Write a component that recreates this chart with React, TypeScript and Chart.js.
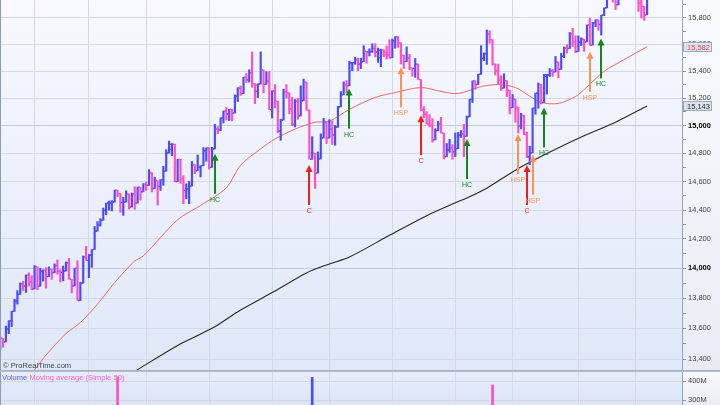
import React, { useEffect, useRef } from "react";
import { Chart, registerables } from "chart.js";
Chart.register(...registerables);

// ---------- data (Dow Jones Industrial, daily, Jan 15 2013 - Dec 6 2013) ----------
const opens = [
  13507, 13534, 13511, 13596, 13649, 13712, 13779, 13825, 13895, 13881, 13954, 13910,
  13861, 14010, 13880, 13979, 13986, 13944, 13993, 13971, 14019, 13982, 13973, 13982, 14036, 13927, 13881, 14001, 13784, 13900, 14076,
  14054, 14090, 14128, 14254, 14296, 14329, 14397, 14448, 14450, 14455, 14539, 14515, 14453, 14456, 14512, 14421, 14512, 14448, 14560, 14527,
  14579, 14573, 14662, 14550, 14607, 14565, 14613, 14673, 14802, 14829, 14865, 14599, 14757, 14619, 14537, 14548, 14568, 14719, 14676, 14700, 14712, 14819,
  14840, 14700, 14831, 14974, 14969, 15056, 15105, 15083, 15118, 15091, 15215, 15275, 15233, 15354, 15335, 15388, 15307, 15250, 15303, 15409, 15302, 15324,
  15116, 15254, 15177, 14960, 15040, 15248, 15239, 15122, 15009, 15176, 15070, 15180, 15318, 15112, 14758, 14800, 14660, 14760, 14910, 15024,
  14910, 14975, 14932, 14988, 15136, 15225, 15300, 15291, 15460, 15464, 15484, 15452, 15470, 15548, 15543, 15545, 15568, 15542, 15500, 15559, 15540, 15521,
  15500, 15628, 15658, 15612, 15519, 15471, 15498, 15425, 15419, 15452, 15337, 15112, 15081, 15010, 15002, 14897, 14963, 15010, 14946, 14776, 14825, 14841,
  14810, 14834, 14930, 14938, 14922, 15063, 15191, 15327, 15300, 15376, 15494, 15530, 15677, 15636, 15452, 15402, 15334, 15274, 15329, 15258,
  15130, 15192, 15133, 14997, 15073, 14936, 14776, 14803, 15127, 15237, 15301, 15168, 15360, 15372, 15400, 15393, 15468, 15413, 15510, 15571, 15569, 15681, 15619,
  15546, 15616, 15639, 15619, 15747, 15594, 15762, 15784, 15751, 15822, 15877, 15962, 15976, 15968, 15901, 16010, 16065, 16075, 16073, 16098,
  16086, 16008, 15915, 15889, 15825,
];
const highs = [
  13543, 13534, 13615, 13650, 13713, 13792, 13850, 13902, 13913, 13955, 13970, 13950,
  14019, 14010, 14001, 13990, 14004, 14010, 13993, 14030, 14057, 13991, 14016, 14044, 14068, 13927, 14001, 14052, 13906, 14084, 14150,
  14094, 14128, 14286, 14320, 14340, 14414, 14448, 14463, 14466, 14539, 14539, 14515, 14489, 14534, 14512, 14519, 14563, 14560, 14560, 14585,
  14596, 14684, 14662, 14630, 14607, 14613, 14708, 14826, 14888, 14870, 14865, 14757, 14757, 14641, 14584, 14601, 14742, 14720, 14788, 14712, 14841, 14840,
  14840, 14843, 15009, 14992, 15056, 15106, 15133, 15118, 15118, 15224, 15277, 15290, 15354, 15382, 15410, 15543, 15307, 15306, 15543, 15409, 15395, 15397,
  15254, 15300, 15177, 15046, 15266, 15300, 15239, 15205, 15190, 15200, 15291, 15340, 15318, 15112, 14920, 14800, 14810, 14940, 15052, 15024,
  15043, 15033, 15000, 15140, 15249, 15320, 15330, 15474, 15465, 15504, 15497, 15496, 15590, 15549, 15567, 15604, 15605, 15572, 15564, 15559, 15588, 15635,
  15640, 15659, 15658, 15612, 15519, 15581, 15525, 15425, 15494, 15452, 15337, 15139, 15100, 15079, 15050, 14977, 15031, 15060, 14946, 14870, 14900, 14863,
  14946, 14951, 14964, 15009, 15069, 15192, 15327, 15327, 15377, 15590, 15536, 15709, 15703, 15636, 15453, 15452, 15365, 15380, 15329, 15258,
  15227, 15192, 15133, 15089, 15073, 14953, 14851, 15127, 15237, 15312, 15301, 15376, 15376, 15419, 15412, 15509, 15468, 15534, 15580, 15597, 15690, 15721, 15664,
  15664, 15650, 15639, 15747, 15797, 15767, 15787, 15784, 15822, 15877, 15962, 16030, 15996, 16027, 16025, 16065, 16098, 16104, 16115, 16174,
  16118, 16008, 15954, 15889, 16022,
];
const lows = [
  13460, 13476, 13511, 13565, 13611, 13712, 13760, 13825, 13851, 13838, 13880, 13855,
  13861, 13856, 13880, 13914, 13867, 13944, 13926, 13970, 13960, 13907, 13916, 13982, 13927, 13835, 13881, 13784, 13784, 13900, 14054,
  13937, 14007, 14128, 14254, 14289, 14329, 14368, 14399, 14394, 14455, 14493, 14385, 14363, 14456, 14406, 14421, 14405, 14448, 14469, 14527,
  14537, 14573, 14527, 14550, 14434, 14537, 14573, 14673, 14802, 14783, 14598, 14599, 14586, 14444, 14479, 14444, 14568, 14655, 14676, 14632, 14712, 14743,
  14687, 14700, 14831, 14940, 14963, 15019, 15040, 15036, 15034, 15091, 15175, 15220, 15233, 15315, 15318, 15280, 15160, 15204, 15303, 15239, 15302, 15115,
  15055, 15128, 14948, 14894, 15040, 15200, 15085, 14998, 14990, 15046, 15070, 15180, 15112, 14758, 14758, 14551, 14660, 14760, 14910, 14870,
  14910, 14863, 14858, 14988, 15136, 15225, 15239, 15291, 15403, 15450, 15403, 15419, 15470, 15458, 15513, 15540, 15505, 15465, 15432, 15507, 15490, 15495,
  15500, 15571, 15578, 15453, 15420, 15471, 15409, 15362, 15353, 15337, 15107, 15057, 15010, 14990, 14880, 14897, 14963, 14946, 14760, 14776, 14807, 14758,
  14777, 14834, 14914, 14776, 14922, 15063, 15168, 15265, 15300, 15376, 15478, 15450, 15609, 15444, 15371, 15306, 15257, 15274, 15212, 15084,
  15130, 15024, 14946, 14975, 14935, 14769, 14719, 14803, 15082, 15126, 15158, 15168, 15230, 15360, 15360, 15393, 15350, 15413, 15500, 15534, 15569, 15584, 15537,
  15546, 15591, 15547, 15619, 15594, 15594, 15733, 15706, 15670, 15818, 15877, 15960, 15922, 15865, 15901, 15996, 16056, 16054, 16072, 16081,
  15996, 15850, 15800, 15782, 15825,
];
const closes = [
  13535, 13511, 13597, 13650, 13712, 13780, 13825, 13896, 13882, 13954, 13911, 13861,
  14010, 13880, 13979, 13986, 13944, 13993, 13971, 14019, 13982, 13973, 13982, 14036, 13928, 13881, 14001, 13784, 13900, 14076, 14054,
  14090, 14128, 14254, 14296, 14329, 14397, 14448, 14450, 14455, 14539, 14515, 14453, 14456, 14512, 14421, 14512, 14448, 14560, 14527, 14579,
  14573, 14662, 14550, 14607, 14565, 14613, 14673, 14802, 14865, 14865, 14599, 14757, 14619, 14537, 14548, 14568, 14719, 14676, 14700, 14712, 14819, 14840,
  14700, 14831, 14974, 14969, 15056, 15105, 15083, 15118, 15091, 15215, 15275, 15233, 15354, 15335, 15388, 15307, 15295, 15303, 15409, 15302, 15324, 15116,
  15254, 15177, 14960, 15040, 15248, 15239, 15122, 15009, 15176, 15070, 15180, 15318, 15112, 14758, 14800, 14660, 14760, 14910, 15024, 14910,
  14975, 14932, 14988, 15136, 15225, 15300, 15291, 15460, 15464, 15484, 15452, 15470, 15548, 15543, 15545, 15568, 15542, 15555, 15559, 15521, 15521, 15500,
  15628, 15658, 15612, 15519, 15471, 15498, 15425, 15419, 15452, 15337, 15112, 15081, 15010, 15002, 14897, 14963, 15010, 14946, 14776, 14825, 14841, 14810,
  14834, 14930, 14938, 14922, 15063, 15191, 15327, 15300, 15376, 15494, 15530, 15677, 15636, 15452, 15402, 15334, 15274, 15329, 15258, 15130,
  15192, 15133, 14997, 15073, 14936, 14776, 14803, 15127, 15237, 15301, 15168, 15374, 15372, 15400, 15393, 15468, 15413, 15510, 15571, 15569, 15681, 15619, 15546,
  15616, 15639, 15619, 15747, 15594, 15762, 15784, 15751, 15822, 15877, 15962, 15976, 15968, 15901, 16010, 16065, 16073, 16073, 16098, 16086,
  16008, 15915, 15889, 15822, 16020,
];

// first bar index of each month (Feb ... Dec)
const monthStartIdx = [12, 31, 51, 73, 95, 115, 137, 159, 179, 202, 222];

// price axis ticks (every 100, labelled every 200)
const priceTicks = [13400, 13500, 13600, 13700, 13800, 13900, 14000, 14100, 14200, 14300, 14400, 14500, 14600, 14700, 14800, 14900, 15000, 15100, 15200, 15300, 15400, 15500, 15600, 15700, 15800, 15900];

// moving averages
const ma50Idx = [12, 16, 23, 28, 34, 40, 47, 50, 62, 70, 79, 84, 91, 96, 103, 110, 115, 122, 131, 138, 147, 154, 160, 168, 174, 180, 185, 189, 195, 201, 204, 211, 218, 226];
const ma50Val = [13330, 13425, 13566, 13638, 13760, 13904, 14050, 14084, 14333, 14432, 14555, 14716, 14832, 14903, 14974, 15024, 15032, 15118, 15205, 15241, 15278, 15249, 15234, 15285, 15300, 15278, 15214, 15168, 15161, 15212, 15263, 15398, 15486, 15582];
const ma200Idx = [47, 62, 74, 84, 96, 107, 115, 122, 136, 149, 159, 163, 170, 180, 191, 203, 215, 226];
const ma200Val = [13320, 13488, 13600, 13721, 13847, 13969, 14030, 14077, 14225, 14361, 14450, 14484, 14553, 14680, 14798, 14917, 15024, 15143];

// signal arrows
const signalIdx = [75, 108, 122, 140, 147, 163, 181, 184, 186, 190, 206, 210];
const signalPrice = [14797, 14717, 15270, 15428, 15075, 14903, 14938, 14717, 14790, 15132, 15545, 15645];
const signalLabel = ["HC", "C", "HC", "HSP", "C", "HC", "HSP", "C", "HSP", "HC", "HSP", "HC"];

// volume (millions) - only the spikes that reach the visible panel range
const volIdx = [41, 109, 172];
const volVal = [422, 419, 379];
const volTicks = [300, 400];

// ---------- styling ----------
const FONT = "'Liberation Sans', Arial, sans-serif";
const BLUE = "#4a4aff";
const MAGENTA = "#ff4ec6";
const GRID = "#d3d9e7";
const GRID_STRONG = "#c2cadb";
const X_MIN = -0.07;
const X_MAX = 238.2;
const Y_MIN = 13329;
const Y_MAX = 15938;
const SIG_COLORS: Record<string, string> = { HC: "#16861a", C: "#f21d1d", HSP: "#ff9252" };

const fmt = (v: number) => String(Math.round(v)).replace(/\B(?=(\d{3})+(?!\d))/g, ",");
const barColor = (i: number) => (closes[i] >= opens[i] ? BLUE : MAGENTA);

function bgPlugin(plotTop: string, plotBottom: string) {
  return {
    id: "bg",
    beforeDraw(chart: any) {
      const { ctx, chartArea: a, width, height } = chart;
      ctx.save();
      let g = ctx.createLinearGradient(0, 0, 0, height);
      g.addColorStop(0, "#fafbfd");
      g.addColorStop(1, "#e8edf5");
      ctx.fillStyle = g;
      ctx.fillRect(0, 0, width, height);
      g = ctx.createLinearGradient(0, a.top, 0, a.bottom);
      g.addColorStop(0, plotTop);
      g.addColorStop(1, plotBottom);
      ctx.fillStyle = g;
      ctx.fillRect(a.left, a.top, a.right - a.left, a.bottom - a.top);
      ctx.restore();
    },
  };
}

const ohlcTicksPlugin = {
  id: "ohlcTicks",
  afterDatasetsDraw(chart: any) {
    const { ctx, chartArea: a, scales } = chart;
    const xs = scales.x, ys = scales.y;
    ctx.save();
    ctx.beginPath();
    ctx.rect(a.left, a.top, a.right - a.left, a.bottom - a.top);
    ctx.clip();
    for (let i = 0; i < closes.length; i++) {
      const x = xs.getPixelForValue(i);
      const yo = ys.getPixelForValue(opens[i]);
      const yc = ys.getPixelForValue(closes[i]);
      ctx.fillStyle = barColor(i);
      ctx.fillRect(x - 2.2, yo - 0.6, 1.5, 1.2);
      ctx.fillRect(x + 0.7, yc - 0.6, 1.5, 1.2);
    }
    ctx.restore();
  },
};

const signalPlugin = {
  id: "signals",
  afterDatasetsDraw(chart: any) {
    const { ctx, scales } = chart;
    const xs = scales.x, ys = scales.y;
    ctx.save();
    ctx.font = `7px ${FONT}`;
    ctx.textAlign = "center";
    ctx.textBaseline = "middle";
    for (let k = 0; k < signalIdx.length; k++) {
      const x = Math.round(xs.getPixelForValue(signalIdx[k]));
      const yTip = ys.getPixelForValue(signalPrice[k]);
      const col = SIG_COLORS[signalLabel[k]];
      ctx.fillStyle = col;
      ctx.beginPath();
      ctx.moveTo(x, yTip);
      ctx.lineTo(x - 3.5, yTip + 7);
      ctx.lineTo(x + 3.5, yTip + 7);
      ctx.closePath();
      ctx.fill();
      ctx.fillRect(x - 1, yTip + 6, 2, 34);
      ctx.fillText(signalLabel[k], x, yTip + 46);
    }
    ctx.restore();
  },
};

const mainOverlayPlugin = {
  id: "mainOverlay",
  afterDraw(chart: any) {
    const { ctx, chartArea: a, scales, width } = chart;
    const ys = scales.y;
    ctx.save();
    ctx.fillStyle = "#8e9cb0";
    ctx.fillRect(0, 0, 1, a.bottom);
    ctx.fillStyle = "#a6b1c1";
    ctx.fillRect(0, a.bottom, width, 1);
    // last-value boxes
    const boxes = [
      { v: ma50Val[ma50Val.length - 1], c: "#e8424c" },
      { v: ma200Val[ma200Val.length - 1], c: "#1d2430" },
    ];
    ctx.font = `7.5px ${FONT}`;
    ctx.textBaseline = "middle";
    ctx.textAlign = "left";
    for (const b of boxes) {
      const y = ys.getPixelForValue(b.v);
      ctx.fillStyle = "#dce3ed";
      ctx.fillRect(a.right + 1, Math.round(y) - 5, 29, 10);
      ctx.strokeStyle = "#9aabbf";
      ctx.lineWidth = 1;
      ctx.strokeRect(a.right + 1.5, Math.round(y) - 4.5, 28, 9);
      ctx.fillStyle = b.c;
      ctx.fillText(fmt(b.v), a.right + 5, Math.round(y) + 0.5);
    }
    ctx.fillStyle = "#3d4450";
    ctx.font = `7.6px ${FONT}`;
    ctx.fillText("\u00a9 ProRealTime.com", 3, a.bottom - 4);
    ctx.restore();
  },
};

const volOverlayPlugin = {
  id: "volOverlay",
  afterDraw(chart: any) {
    const { ctx, chartArea: a, width } = chart;
    ctx.save();
    ctx.fillStyle = "#b4bfcd";
    ctx.fillRect(0, 0, width, 1);
    ctx.fillStyle = "#8e9cb0";
    ctx.fillRect(0, a.top, 1, a.bottom - a.top);
    ctx.font = `7.6px ${FONT}`;
    ctx.textBaseline = "middle";
    ctx.textAlign = "left";
    ctx.fillStyle = "#5a5cff";
    const t1 = "Volume ";
    ctx.fillText(t1, 2, 7);
    const w = ctx.measureText(t1).width;
    ctx.fillStyle = "#ff5fcf";
    ctx.fillText("Moving average (Simple 50)", 2 + w, 7);
    ctx.restore();
  },
};

function xScale() {
  return {
    type: "linear" as const,
    min: X_MIN,
    max: X_MAX,
    offset: false,
    bounds: "data" as const,
    afterBuildTicks: (s: any) => {
      s.ticks = monthStartIdx.map((v) => ({ value: v }));
    },
    afterFit: (s: any) => {
      s.height = 0;
      s.paddingLeft = 0;
      s.paddingRight = 0;
    },
    ticks: { display: false },
    grid: { color: GRID, drawTicks: false, offset: false, lineWidth: 1 },
    border: { display: false },
  };
}

export default function App() {
  const mainRef = useRef<HTMLCanvasElement>(null);
  const volRef = useRef<HTMLCanvasElement>(null);

  useEffect(() => {
    document.body.style.margin = "0";
    Chart.defaults.font.family = FONT;

    const main = new Chart(mainRef.current as HTMLCanvasElement, {
      type: "line",
      data: {
        datasets: [
          {
            type: "bar",
            data: highs.map((h, i) => ({ x: i, y: [lows[i], h] })) as any,
            backgroundColor: closes.map((_, i) => barColor(i)),
            borderWidth: 0,
            barThickness: 1.5,
            order: 0,
            clip: 0,
          } as any,
          {
            type: "line",
            data: ma50Idx.map((x, i) => ({ x, y: ma50Val[i] })),
            borderColor: "#f0686a",
            borderWidth: 1,
            pointRadius: 0,
            tension: 0.3,
            order: 2,
            clip: 0,
          } as any,
          {
            type: "line",
            data: ma200Idx.map((x, i) => ({ x, y: ma200Val[i] })),
            borderColor: "#262626",
            borderWidth: 1.1,
            pointRadius: 0,
            tension: 0.3,
            order: 2,
            clip: 0,
          } as any,
        ],
      },
      options: {
        responsive: false,
        animation: false,
        devicePixelRatio: 1,
        events: [],
        layout: { padding: { left: 0, right: 0, top: 0, bottom: 1 }, autoPadding: false } as any,
        plugins: { legend: { display: false }, tooltip: { enabled: false }, title: { display: false } },
        scales: {
          x: xScale() as any,
          y: {
            type: "logarithmic",
            position: "right",
            min: Y_MIN,
            max: Y_MAX,
            bounds: "data",
            afterBuildTicks: (s: any) => {
              s.ticks = priceTicks.map((v) => ({ value: v }));
            },
            afterFit: (s: any) => {
              s.width = 38;
              s.paddingTop = 0;
              s.paddingBottom = 0;
            },
            ticks: {
              autoSkip: false,
              padding: 2,
              callback: (v: any) => (Number(v) % 200 === 0 ? fmt(Number(v)) : ""),
              color: (c: any) => (c.tick && c.tick.value % 1000 === 0 ? "#000000" : "#3a3f48"),
              font: (c: any) => ({
                size: 7.5,
                family: FONT,
                weight: c.tick && c.tick.value % 1000 === 0 ? "bold" : "normal",
              }),
            },
            grid: {
              color: (c: any) => {
                const v = c.tick ? c.tick.value : 0;
                if (v % 1000 === 0) return GRID_STRONG;
                if (v % 200 === 0) return GRID;
                return "rgba(0,0,0,0)";
              },
              tickColor: "#8a94a3",
              tickLength: 4,
              lineWidth: 1,
            },
            border: { display: true, color: "#97a4b7", width: 1 },
          } as any,
        },
      },
      plugins: [bgPlugin("#f8f9fe", "#dfe7f8"), ohlcTicksPlugin, signalPlugin, mainOverlayPlugin],
    });

    const vol = new Chart(volRef.current as HTMLCanvasElement, {
      type: "bar",
      data: {
        datasets: [
          {
            data: volIdx.map((x, i) => ({ x, y: volVal[i] })) as any,
            backgroundColor: volIdx.map((i) => barColor(i)),
            borderWidth: 0,
            barThickness: 2,
            clip: 0,
          } as any,
        ],
      },
      options: {
        responsive: false,
        animation: false,
        devicePixelRatio: 1,
        events: [],
        layout: { padding: { left: 0, right: 0, top: 1, bottom: 0 }, autoPadding: false } as any,
        plugins: { legend: { display: false }, tooltip: { enabled: false } },
        scales: {
          x: xScale() as any,
          y: {
            type: "linear",
            position: "right",
            min: 273.7,
            max: 447.4,
            bounds: "data",
            afterBuildTicks: (s: any) => {
              s.ticks = volTicks.map((v) => ({ value: v }));
            },
            afterFit: (s: any) => {
              s.width = 38;
              s.paddingTop = 0;
              s.paddingBottom = 0;
            },
            ticks: {
              autoSkip: false,
              padding: 2,
              color: "#3a3f48",
              font: { size: 7.5, family: FONT },
              callback: (v: any) => `${v}M`,
            },
            grid: { color: "#cfd6e6", tickColor: "#8a94a3", tickLength: 4 },
            border: { display: true, color: "#97a4b7", width: 1 },
          } as any,
        },
      },
      plugins: [bgPlugin("#e6ecfa", "#dce4f7"), volOverlayPlugin],
    });

    return () => {
      main.destroy();
      vol.destroy();
    };
  }, []);

  return (
    <div style={{ position: "relative", width: 720, height: 405, overflow: "hidden" }}>
      <canvas
        ref={mainRef}
        width={720}
        height={371}
        style={{ position: "absolute", left: 0, top: 0, width: 720, height: 371 }}
      />
      <canvas
        ref={volRef}
        width={720}
        height={34}
        style={{ position: "absolute", left: 0, top: 371, width: 720, height: 34 }}
      />
    </div>
  );
}
